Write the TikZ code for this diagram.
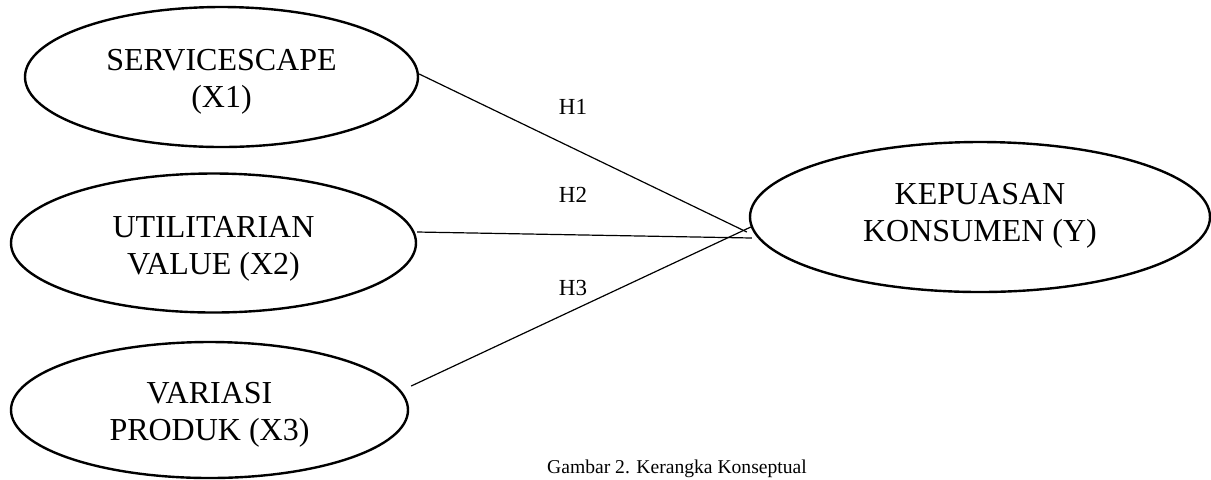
\documentclass[tikz,border=0pt]{standalone}
\usepackage{fontspec}
\setmainfont{Liberation Serif}
\usetikzlibrary{shapes.geometric}
\newcommand{\variabel}[7] {
    \node[var,minimum width=#4,minimum height=#5]
        (#1) at (#2,#3) {};
    \node[teks]
        at ([yshift=#6]#1.center) {#7};
}
\tikzset{
    var/.style={draw,line width=1.2pt,ellipse,inner sep=0pt},
    teks/.style={align=center,font=\fontsize{16}{18.5}\selectfont},
    hip/.style={font=\fontsize{11.5}{13}\selectfont},
    jalur/.style={line width=0.6pt},
}

\begin{document}
\begin{tikzpicture}[x=0.5pt,y=-0.5pt]
    \useasboundingbox (0,0) rectangle (1211,479);
    \variabel{X1}{221.5}{77}{196.5pt}{70pt}{-2.5pt}{SERVICESCAPE\\(X1)};
    \variabel{X2}{213.5}{243}{202.5pt}{69.5pt}{-3pt}{UTILITARIAN\\VALUE (X2)};
    \variabel{X3}{209.5}{410}{198.5pt}{68pt}{-2.5pt}{VARIASI\\PRODUK (X3)};
    \variabel{Y}{980}{217}{230pt}{75pt}{0.5pt}{KEPUASAN\\KONSUMEN (Y)};
    % ujung garis di depan Y
    \coordinate (e1) at ([xshift=-1pt,yshift=-7.5pt]Y.west);
    \coordinate (e2) at ([xshift=1.5pt,yshift=-10.5pt]Y.west);
    \coordinate (e3) at ([xshift=1pt,yshift=-5pt]Y.west);
    \draw[jalur] ([yshift=1.5pt]X1.east) -- (e1);
    \draw[jalur] ([yshift=5.5pt]X2.east) -- (e2);
    \draw[jalur] ([xshift=1pt,yshift=12pt]X3.east) -- (e3);
    \node[hip] (h1) at (573,107) {H1};
    \node[hip] (h2) at (573,195) {H2};
    \node[hip] (h3) at (573,288) {H3};
    \node[hip,font=\fontsize{9.8}{12}\selectfont,anchor=base]
        (judul) at (677,473) {Gambar 2. Kerangka Konseptual};
\end{tikzpicture}
\end{document}
